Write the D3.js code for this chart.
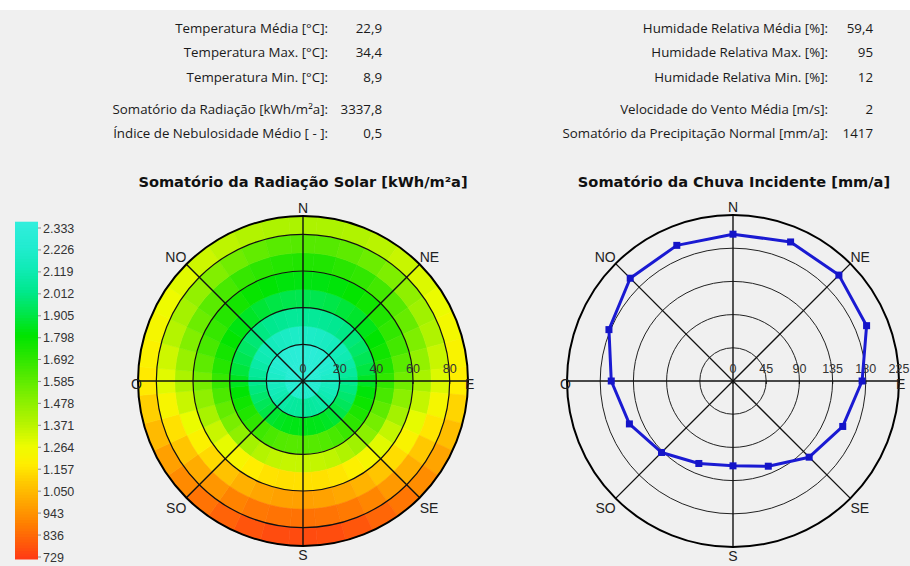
<!DOCTYPE html>
<html>
<head>
<meta charset="utf-8">
<script src="https://cdn.jsdelivr.net/npm/d3@7"></script>
<style>
  html, body { margin: 0; padding: 0; background: #f0f0f0; }
  svg { display: block; }
  .hdr { font-family: "Open Sans", "Noto Sans", sans-serif; font-size: 13.3px; fill: #1a1a1a; }
  .ttl { font-family: "DejaVu Sans", Verdana, sans-serif; font-size: 14.6px; font-weight: bold; fill: #111; }
  .dir { font-family: "Liberation Sans", Arial, sans-serif; font-size: 14px; fill: #222; }
  .tick { font-family: "Liberation Sans", Arial, sans-serif; font-size: 12.5px; fill: #333; }
  .lg { font-family: "Liberation Sans", Arial, sans-serif; font-size: 12.5px; fill: #333; }
</style>
</head>
<body>
<svg id="chart" width="910" height="566"></svg>
<script>
// ---- climate summary ----
const leftLabels = ["Temperatura Média [°C]:", "Temperatura Max. [°C]:", "Temperatura Min. [°C]:",
                    "Somatório da Radiação [kWh/m²a]:", "Índice de Nebulosidade Médio [ - ]:"];
const leftValues = ["22,9", "34,4", "8,9", "3337,8", "0,5"];
const rightLabels = ["Humidade Relativa Média [%]:", "Humidade Relativa Max. [%]:", "Humidade Relativa Min. [%]:",
                     "Velocidade do Vento Média [m/s]:", "Somatório da Precipitação Normal [mm/a]:"];
const rightValues = ["59,4", "95", "12", "2", "1417"];

// ---- radiation sum by surface orientation: one row per tilt band (centre tilt), azimuth 0..350 step 10 from N ----
const azimuths = [0,10,20,30,40,50,60,70,80,90,100,110,120,130,140,150,160,170,
                  180,190,200,210,220,230,240,250,260,270,280,290,300,310,320,330,340,350];
const tilts = [5, 15, 25, 35, 45, 55, 65, 75, 85];
const rad5  = [2290,2290,2288,2285,2280,2275,2270,2262,2255,2250,2245,2238,2232,2226,2220,2216,2212,2210,2210,2210,2212,2216,2220,2226,2232,2238,2245,2250,2255,2262,2270,2275,2280,2285,2288,2290];
const rad15 = [2290,2290,2285,2275,2265,2250,2235,2215,2195,2175,2155,2135,2115,2095,2080,2065,2055,2050,2050,2050,2052,2060,2075,2090,2110,2130,2150,2170,2190,2210,2230,2245,2260,2272,2282,2288];
const rad25 = [2190,2190,2180,2170,2150,2130,2110,2080,2050,2020,1990,1960,1930,1900,1870,1850,1835,1830,1830,1828,1832,1845,1865,1895,1925,1955,1985,2015,2045,2075,2105,2125,2145,2165,2178,2188];
const rad35 = [2040,2040,2030,2020,2000,1980,1950,1920,1890,1850,1810,1770,1730,1690,1660,1630,1610,1600,1600,1598,1605,1625,1652,1682,1722,1762,1802,1842,1882,1912,1942,1972,1992,2012,2026,2036];
const rad45 = [1910,1910,1900,1880,1860,1830,1800,1760,1720,1680,1630,1580,1530,1480,1430,1390,1360,1350,1345,1345,1355,1380,1420,1470,1520,1570,1620,1670,1710,1750,1790,1820,1850,1872,1895,1905];
const rad55 = [1820,1820,1810,1790,1760,1720,1680,1640,1590,1540,1480,1420,1350,1290,1230,1190,1160,1150,1150,1148,1155,1182,1222,1280,1340,1410,1470,1530,1580,1630,1670,1710,1750,1782,1802,1815];
const rad65 = [1720,1720,1700,1680,1640,1600,1560,1510,1460,1410,1350,1280,1210,1140,1080,1030,1000,985,980,982,995,1022,1072,1130,1200,1270,1340,1400,1450,1500,1550,1590,1630,1670,1692,1712];
const rad75 = [1600,1600,1580,1550,1510,1470,1430,1390,1340,1300,1230,1160,1090,1020,960,910,880,865,860,862,875,902,952,1010,1080,1150,1220,1290,1330,1380,1420,1460,1500,1540,1572,1595];
const rad85 = [1400,1400,1390,1370,1340,1300,1270,1240,1210,1180,1120,1060,990,930,870,830,790,770,765,768,785,822,862,920,980,1050,1110,1170,1200,1230,1260,1290,1330,1362,1385,1398];
const radRows = [rad5, rad15, rad25, rad35, rad45, rad55, rad65, rad75, rad85];

// colour legend
const legendValues = [2333, 2226, 2119, 2012, 1905, 1798, 1692, 1585, 1478, 1371, 1264, 1157, 1050, 943, 836, 729];
const legendLabels = ["2.333", "2.226", "2.119", "2.012", "1.905", "1.798", "1.692", "1.585", "1.478",
                      "1.371", "1.264", "1.157", "1.050", "943", "836", "729"];
const colorStops = [729, 800, 900, 1000, 1100, 1180, 1264, 1371, 1478, 1585, 1692, 1798, 1905, 2012, 2119, 2226, 2333];
const colorList  = ["#ff3c14", "#ff5a0a", "#ff8200", "#ffa800", "#ffcc00", "#ffee00", "#eefc00", "#b8f400",
                    "#8cf000", "#5ceb00", "#2ce600", "#00e400", "#00e64c", "#00e88e", "#10ebb6", "#22ecd0", "#30eedc"];

// ---- driving rain by direction (16 sectors from N, clockwise) ----
const rainDirections = [0, 22.5, 45, 67.5, 90, 112.5, 135, 157.5, 180, 202.5, 225, 247.5, 270, 292.5, 315, 337.5];
const rainValues = [199, 204, 203, 196, 175, 161, 146, 125, 115, 121, 137, 152, 165, 182, 197, 199];

// polar axes
const solarRings = [20, 40, 60, 80];
const solarMax = 90;
const solarTicks = [0, 20, 40, 60, 80];
const rainRings = [45, 90, 135, 180];
const rainMax = 225;
const rainTicks = [0, 45, 90, 135, 180, 225];
const compass = [
  {name: "N", az: 0}, {name: "NE", az: 45}, {name: "E", az: 90}, {name: "SE", az: 135},
  {name: "S", az: 180}, {name: "SO", az: 225}, {name: "O", az: 270}, {name: "NO", az: 315}
];

const svg = d3.select("#chart");
const toRad = d => d * Math.PI / 180;

// top strip
svg.append("rect").attr("x", 0).attr("y", 0).attr("width", 910).attr("height", 10).attr("fill", "#ffffff");

// ---- header ----
const rowY = [33, 57, 82, 114, 138];
function headerColumn(labels, values, labelX, valueX) {
  const g = svg.append("g").attr("class", "hdr");
  g.selectAll("text.l").data(labels).join("text").attr("class", "l")
    .attr("x", labelX).attr("y", (d, i) => rowY[i]).attr("text-anchor", "end").text(d => d);
  g.selectAll("text.v").data(values).join("text").attr("class", "v")
    .attr("x", valueX).attr("y", (d, i) => rowY[i]).attr("text-anchor", "end").text(d => d);
}
headerColumn(leftLabels, leftValues, 328, 382);
headerColumn(rightLabels, rightValues, 828, 873);

// ---- colour scale ----
const color = d3.scaleLinear().domain(colorStops).range(colorList).interpolate(d3.interpolateRgb).clamp(true);

// legend bar
const legendY = d3.scaleLinear().domain([729, 2333]).range([557, 228]);
const legend = svg.append("g");
const nSteps = 120;
const stepVals = d3.range(nSteps).map(i => 729 + (2333 - 729) * i / (nSteps - 1));
const barTop = 225, barBot = 559;
const barScale = d3.scaleLinear().domain([729, 2333]).range([barBot, barTop]);
legend.selectAll("rect").data(stepVals).join("rect")
  .attr("x", 15).attr("width", 23)
  .attr("y", d => barScale(d) - (barBot - barTop) / nSteps - 0.5)
  .attr("height", (barBot - barTop) / nSteps + 1)
  .attr("fill", d => color(d));
legend.selectAll("line").data(legendValues).join("line")
  .attr("x1", 38).attr("x2", 41)
  .attr("y1", d => legendY(d)).attr("y2", d => legendY(d))
  .attr("stroke", "#888").attr("stroke-width", 1);
legend.selectAll("text").data(legendLabels).join("text")
  .attr("class", "lg")
  .attr("x", 43).attr("y", (d, i) => legendY(legendValues[i]) + 4.5)
  .text(d => d);

// ---- generic polar frame ----
function polarFrame(g, r, rings, maxVal, ticks, ringColor, ringWidth) {
  const R = r(maxVal);
  g.selectAll("circle.ring").data(rings).join("circle").attr("class", "ring")
    .attr("r", d => r(d)).attr("fill", "none").attr("stroke", ringColor).attr("stroke-width", ringWidth);
  g.selectAll("line.spoke").data([0, 45, 90, 135]).join("line").attr("class", "spoke")
    .attr("x1", d => -R * Math.sin(toRad(d))).attr("y1", d => R * Math.cos(toRad(d)))
    .attr("x2", d => R * Math.sin(toRad(d))).attr("y2", d => -R * Math.cos(toRad(d)))
    .attr("stroke", "#111").attr("stroke-width", 1.4);
  g.append("circle").attr("r", R).attr("fill", "none").attr("stroke", "#000").attr("stroke-width", 2);
  g.selectAll("line.tk").data(ticks).join("line").attr("class", "tk")
    .attr("x1", d => r(d)).attr("x2", d => r(d)).attr("y1", 0).attr("y2", 3)
    .attr("stroke", "#111").attr("stroke-width", 1.2);
  g.selectAll("text.tv").data(ticks).join("text").attr("class", "tick tv")
    .attr("x", d => r(d)).attr("y", -8.5).attr("text-anchor", "middle").text(d => d);
  g.selectAll("text.cp").data(compass).join("text").attr("class", "dir cp")
    .each(function(d) {
      const s = Math.sin(toRad(d.az)), c = Math.cos(toRad(d.az));
      const t = d3.select(this).text(d.name);
      const x = R * s, y = -R * c;
      if (d.name === "N") t.attr("x", 0).attr("y", y - 3).attr("text-anchor", "middle");
      else if (d.name === "S") t.attr("x", 0).attr("y", y + 14).attr("text-anchor", "middle");
      else if (d.name === "E") t.attr("x", x - 3).attr("y", 8).attr("text-anchor", "start");
      else if (d.name === "O") t.attr("x", x + 4).attr("y", 8).attr("text-anchor", "end");
      else {
        t.attr("text-anchor", s > 0 ? "start" : "end")
         .attr("x", x)
         .attr("y", c > 0 ? y - 2 : y + 15);
      }
    });
}

// ---- solar radiation polar map ----
const solar = svg.append("g").attr("transform", "translate(303,381)");
const rSolar = d3.scaleLinear().domain([0, solarMax]).range([0, 165]);
const cells = [];
tilts.forEach((t, i) => azimuths.forEach((a, j) => cells.push({tilt: t, az: a, v: radRows[i][j]})));
const cellArc = d3.arc()
  .innerRadius(d => rSolar(Math.max(0, d.tilt - 5)))
  .outerRadius(d => rSolar(d.tilt + 5))
  .startAngle(d => toRad(d.az - 5))
  .endAngle(d => toRad(d.az + 5));
solar.selectAll("path.cell").data(cells).join("path").attr("class", "cell")
  .attr("d", cellArc).attr("fill", d => color(d.v)).attr("stroke", d => color(d.v)).attr("stroke-width", 0.6);
polarFrame(solar, rSolar, solarRings, solarMax, solarTicks, "#111", 1.2);

svg.append("text").attr("class", "ttl").attr("x", 303).attr("y", 187).attr("text-anchor", "middle")
  .text("Somatório da Radiação Solar [kWh/m²a]");

// ---- driving rain polar plot ----
const rain = svg.append("g").attr("transform", "translate(733,381)");
const rRain = d3.scaleLinear().domain([0, rainMax]).range([0, 166]);
polarFrame(rain, rRain, rainRings, rainMax, rainTicks, "#222", 1);
const rainPts = rainDirections.map((a, i) => ({az: a, v: rainValues[i]}));
const rainLine = d3.lineRadial().angle(d => toRad(d.az)).radius(d => rRain(d.v)).curve(d3.curveLinearClosed);
rain.append("path").datum(rainPts).attr("d", rainLine)
  .attr("fill", "none").attr("stroke", "#1a1ad2").attr("stroke-width", 3).attr("stroke-linejoin", "round");
rain.selectAll("rect.mk").data(rainPts).join("rect").attr("class", "mk")
  .attr("x", d => rRain(d.v) * Math.sin(toRad(d.az)) - 3.5)
  .attr("y", d => -rRain(d.v) * Math.cos(toRad(d.az)) - 3.5)
  .attr("width", 7).attr("height", 7).attr("fill", "#1414c8");

svg.append("text").attr("class", "ttl").attr("x", 734).attr("y", 187).attr("text-anchor", "middle")
  .text("Somatório da Chuva Incidente [mm/a]");
</script>
</body>
</html>
